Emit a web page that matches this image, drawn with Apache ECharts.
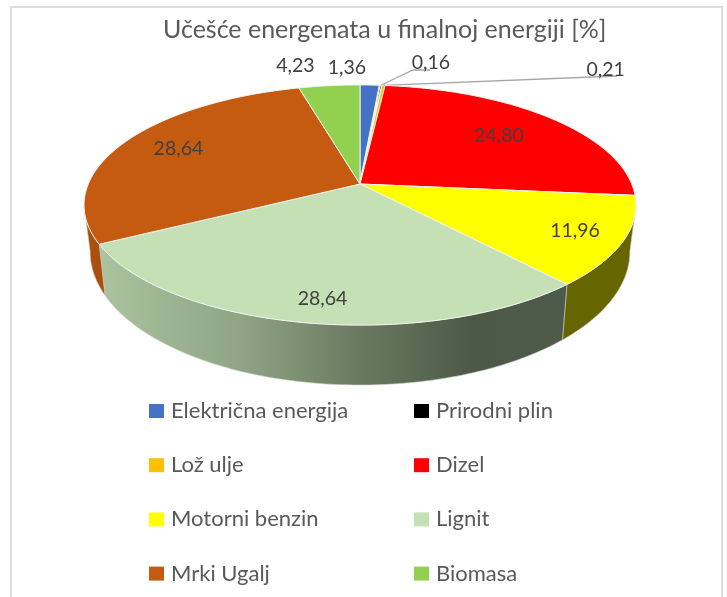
<!DOCTYPE html>
<html>
<head>
<meta charset="utf-8">
<style>
  html, body { margin: 0; padding: 0; background: #fff; }
  #chart { width: 727px; height: 597px; overflow: hidden; }
</style>
<script src="https://cdn.jsdelivr.net/npm/echarts@6/dist/echarts.min.js"></script>
</head>
<body>
<div id="chart"></div>
<script>
  var categories = ["Električna energija", "Prirodni plin", "Lož ulje", "Dizel", "Motorni benzin", "Lignit", "Mrki Ugalj", "Biomasa"];
  var values = [1.36, 0.16, 0.21, 24.80, 11.96, 28.64, 28.64, 4.23];
  var faceColors = ["#4472c4", "#000000", "#ffc000", "#ff0000", "#ffff00", "#c5e0b4", "#c55a11", "#92d050"];
  var legendLeft = ["Električna energija", "Lož ulje", "Motorni benzin", "Mrki Ugalj"];
  var legendRight = ["Prirodni plin", "Dizel", "Lignit", "Biomasa"];

  var FONT = "Lato, 'Open Sans', sans-serif";
  // perspective of the tilted disc
  var CX = 360, CY = 184, A = 271.7, C = 116.4, K = 0.175;
  // lower rim relative to the top one
  var RIM_X = 0.978, RIM_Y = 1.11, RIM_D = 44.4;
  var WALL_FROM = 100, WALL_TO = 260;

  // [radius factor, dx, dy] for each value label
  var labelPlace = [
    [1, -23, -17], [1, 50, -23], [1, 222, -16], [0.7, 2, -1],
    [0.83, 0, 0], [0.85, 10, 1], [0.77, 1, -2], [1, -34, -20]
  ];
  // leader lines only on the two thin slices: end of slope, end of the flat part
  var leaders = { 1: [[413, 70], [430, 70]], 2: [[617, 76], [600, 76]] };

  function project(deg, r) {
    var t = deg * Math.PI / 180;
    var x = r * Math.sin(t), y = r * Math.cos(t);
    var d = 1 + K * y;
    return [A * x / d, -C * y / d];
  }
  function topPoint(deg, r) {
    var p = project(deg, r);
    return [CX + p[0], CY + p[1]];
  }
  function rimPoint(deg) {
    var p = project(deg, 1);
    return [CX + p[0] * RIM_X, CY + p[1] * RIM_Y + RIM_D];
  }
  function arc(from, to, fn) {
    var pts = [], n = Math.max(2, Math.ceil((to - from) / 1));
    for (var i = 0; i <= n; i++) pts.push(fn(from + (to - from) * i / n));
    return pts;
  }
  function wallFill(i) {
    if (categories[i] === "Lignit") {
      return new echarts.graphic.LinearGradient(100, 0, 568, 0, [
        { offset: 0, color: "#abc39e" },
        { offset: 0.3, color: "#8fa585" },
        { offset: 0.55, color: "#6a7a60" },
        { offset: 0.8, color: "#4c5947" },
        { offset: 1, color: "#4f5b4a" }
      ], true);
    }
    if (categories[i] === "Motorni benzin") return "#666600";
    if (categories[i] === "Mrki Ugalj") return "#ab4e0e";
    return faceColors[i];
  }

  function renderSlice(params, api) {
    var i = params.seriesIndex;
    var from = api.value(0) * 3.6, to = api.value(1) * 3.6;
    var children = [];

    // side wall, only the part that faces the viewer
    var wa = Math.max(from, WALL_FROM), wb = Math.min(to, WALL_TO);
    if (wb > wa) {
      var top = arc(wa, wb, function (d) { return topPoint(d, 1); });
      var rim = arc(wa, wb, rimPoint).reverse();
      children.push({
        type: "polygon",
        shape: { points: top.concat(rim) },
        style: { fill: wallFill(i), stroke: "#c9cdc4", lineWidth: 0.6 }
      });
    }

    // top face, the black sliver is nearly washed out by its border in the original
    var face = [[CX, CY]].concat(arc(from, to, function (d) { return topPoint(d, 1); }));
    children.push({
      type: "polygon",
      shape: { points: face },
      style: { fill: faceColors[i], stroke: "#f2f2f2", lineWidth: categories[i] === "Prirodni plin" ? 1.8 : 1 }
    });

    var mid = (from + to) / 2;
    if (leaders[i]) {
      var start = topPoint(mid, 1);
      children.push({
        type: "polyline",
        shape: { points: [start].concat(leaders[i]) },
        style: { fill: null, stroke: "#a6a6a6", lineWidth: 1.3 }
      });
    }

    var place = labelPlace[i];
    var at = topPoint(mid, place[0]);
    children.push({
      type: "text",
      z2: 10,
      x: at[0] + place[1],
      y: at[1] + place[2],
      style: {
        text: values[i].toFixed(2).replace(".", ","),
        fill: "#404040",
        font: "19.5px " + FONT,
        align: "center",
        verticalAlign: "middle"
      }
    });
    return { type: "group", children: children };
  }

  var seriesList = [];
  var running = 0;
  categories.forEach(function (name, i) {
    seriesList.push({
      type: "custom",
      name: name,
      coordinateSystem: "none",
      silent: true,
      clip: false,
      itemStyle: { color: faceColors[i] },
      renderItem: renderSlice,
      data: [[running, running + values[i]]]
    });
    running += values[i];
  });

  function legendOf(names, left) {
    return {
      data: names,
      left: left,
      top: 400,
      padding: 0,
      orient: "vertical",
      icon: "rect",
      itemWidth: 15,
      itemHeight: 14,
      itemGap: 32.2,
      selectedMode: false,
      textStyle: { color: "#595959", fontFamily: FONT, fontSize: 22, padding: [0, 0, 0, 2] }
    };
  }

  var chart = echarts.init(document.getElementById("chart"));
  chart.setOption({
    animation: false,
    backgroundColor: "#fff",
    title: {
      text: "Učešće energenata u finalnoj energiji [%]",
      left: 163,
      top: 17,
      padding: 0,
      textStyle: { color: "#595959", fontFamily: FONT, fontSize: 25, fontWeight: "normal" }
    },
    legend: [legendOf(legendLeft, 149), legendOf(legendRight, 414)],
    graphic: [{
      type: "rect",
      silent: true,
      shape: { x: 11, y: 7, width: 711, height: 640 },
      style: { fill: null, stroke: "#dcdcdc", lineWidth: 2 }
    }],
    series: seriesList
  });
</script>
</body>
</html>
